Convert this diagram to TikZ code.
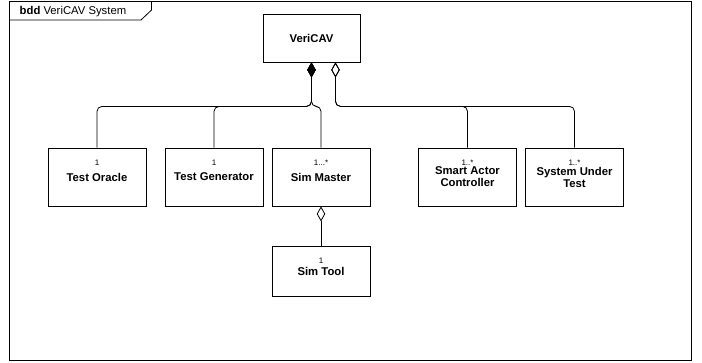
\documentclass[tikz,border=0pt]{standalone}
\usepackage{fontspec}
\setmainfont{Liberation Sans}
\usepackage{tikz}
\usetikzlibrary{arrows.meta}

\tikzset{
	block/.style={draw, line width=0.8pt, minimum width=98pt, minimum height=58pt, inner sep=0pt,
		align=center, font=\fontsize{11.3}{12}\selectfont\bfseries},
	mult/.style={anchor=north, yshift=-12pt, inner sep=0pt, font=\fontsize{8}{8}\selectfont},
	compose/.style={line width=0.8pt, rounded corners=5pt, {Diamond[length=15pt,width=8.5pt]}-},
	aggregate/.style={line width=0.8pt, rounded corners=5pt, {Diamond[open,length=15pt,width=8.5pt]}-}
}

\begin{document}
\begin{tikzpicture}[x=1pt,y=-1pt]
	\useasboundingbox (0,0) rectangle (702,362);
	% frame
	\draw[line width=0.9pt] (9,1) rectangle (691.5,360.5);
	\draw[line width=0.8pt] (9,20) -- (141,20) -- (151.5,10) -- (151.5,1);
	\node[anchor=west, inner sep=0pt, font=\fontsize{11.3}{12}\selectfont] (title) at (19.5,11.5) {\textbf{bdd} VeriCAV System};
	% blocks
	\node[block, minimum width=97pt, minimum height=48pt] (vericav) at (311.5,38) {VeriCAV};
	\node[block, label={[mult]north:1}] (oracle) at (97,177) {Test Oracle};
	\node[block, label={[mult]north:1}] (generator) at (214,177) {Test Generator};
	\node[block, label={[mult]north:1...*}] (master) at (321,177) {Sim Master};
	\node[block, label={[mult]north:1..*}] (actor) at (467.5,177) {Smart Actor\\Controller};
	\node[block, label={[mult]north:1..*}] (sut) at (574.5,177) {System Under\\Test};
	\node[block, minimum height=50pt, label={[mult]north:1}] (tool) at (321,271) {Sim Tool};
	% connectors
	\coordinate (comp) at (vericav.south);
	\coordinate (agg) at ([xshift=24pt]vericav.south);
	\draw[compose] (comp) -- ++(0,44) -| (oracle.north);
	\draw[compose] (comp) -- ++(0,44) -| (generator.north);
	\draw[compose] (comp) -- ++(0,44) -| (master.north);
	\draw[aggregate] (agg) -- ++(0,44) -| (actor.north);
	\draw[aggregate] (agg) -- ++(0,44) -| (sut.north);
	\draw[aggregate] (master.south) -- (tool.north);
\end{tikzpicture}
\end{document}
